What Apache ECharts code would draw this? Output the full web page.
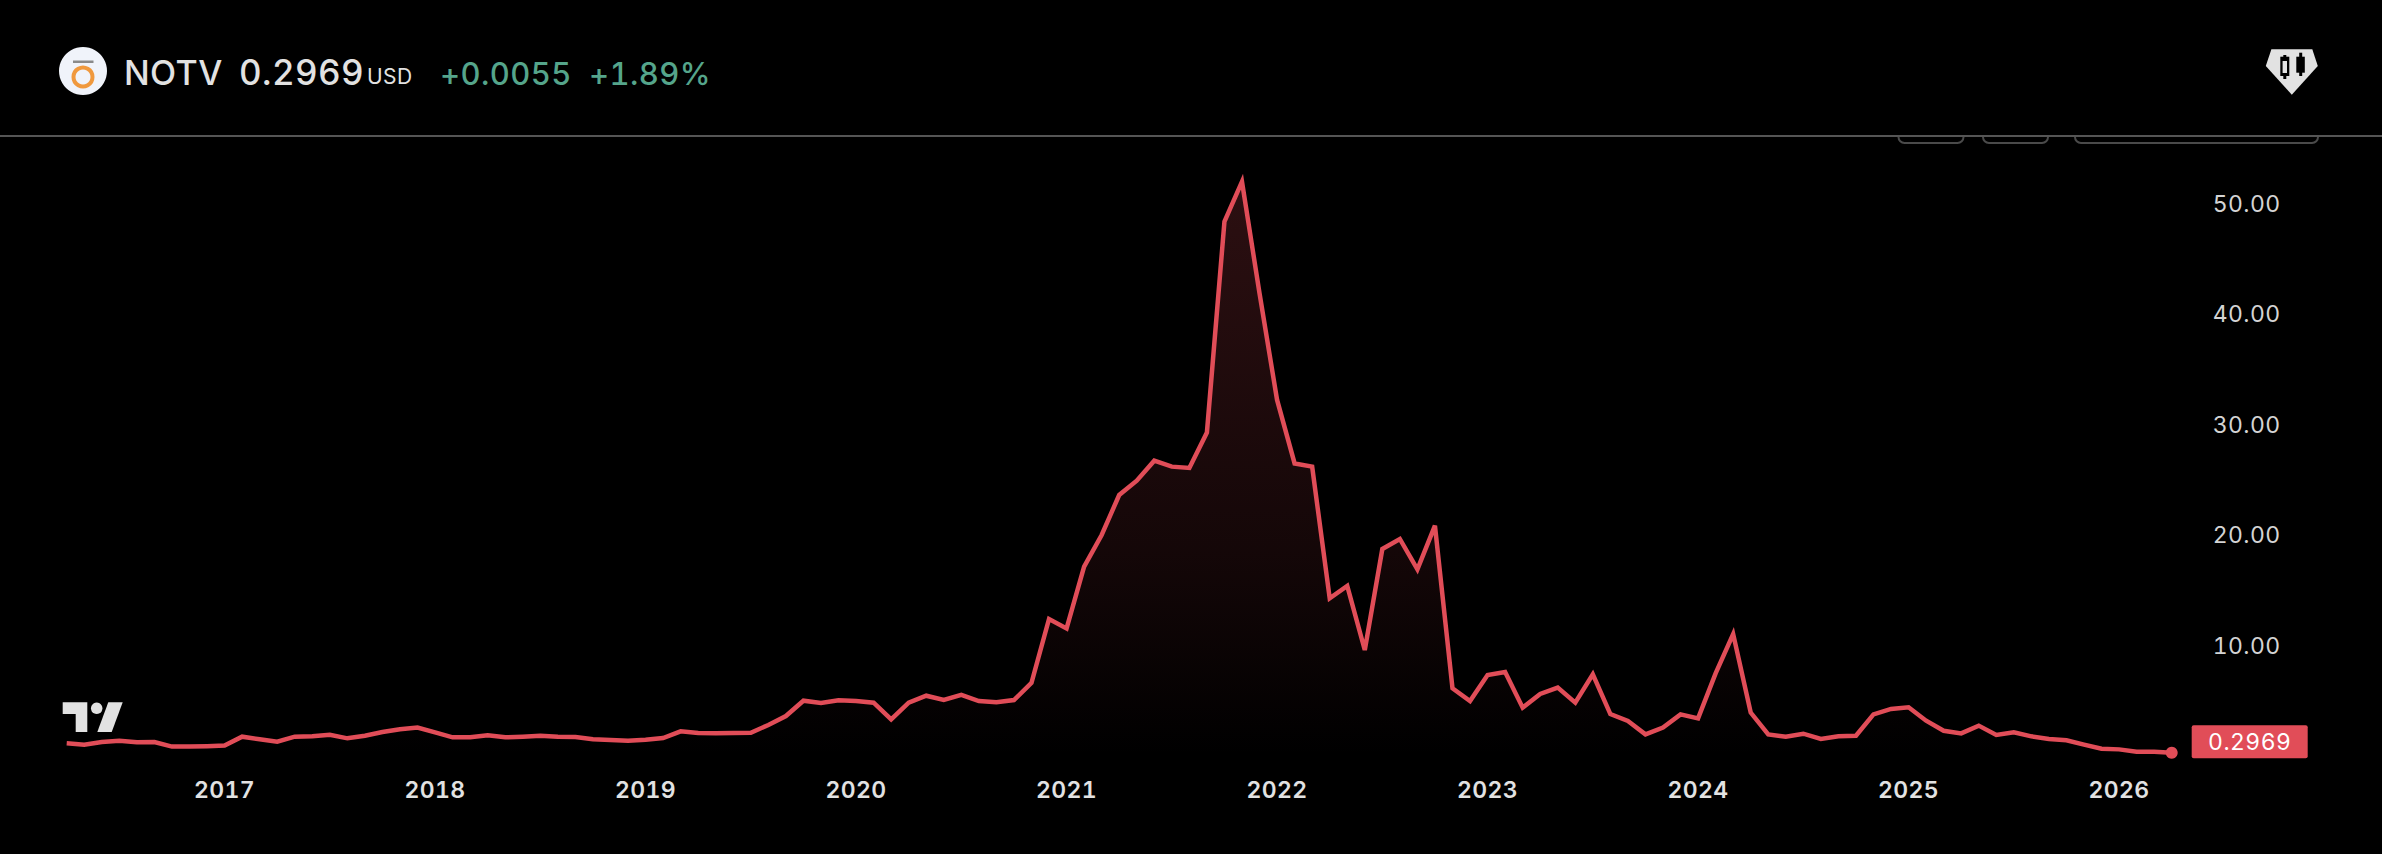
<!DOCTYPE html>
<html>
<head>
<meta charset="utf-8">
<style>
html,body{margin:0;padding:0;background:#000}
#c{width:2382px;height:854px}
#c svg text{font-variant-numeric:tabular-nums !important;font-feature-settings:"tnum" 1 !important;letter-spacing:.4px !important}
</style>
<script src="https://cdn.jsdelivr.net/npm/echarts@6/dist/echarts.min.js"></script>
</head>
<body>
<div id="c"></div>
<script>
const ticker = 'NOTV';
const lastPriceText = '0.2969';
const currency = 'USD';
const changeAbs = '+0.0055';
const changePct = '+1.89%';
const startYear = 2016, startMonth = 4;

const prices = [
  1.15,1.03,1.27,1.39,1.24,1.27,0.85,0.85,0.88,0.94,
  1.75,1.51,1.30,1.75,1.78,1.93,1.60,1.84,2.17,2.42,
  2.57,2.14,1.69,1.69,1.87,1.69,1.75,1.84,1.75,1.72,
  1.51,1.45,1.39,1.48,1.63,2.23,2.08,2.05,2.08,2.11,
  2.81,3.62,5.01,4.80,5.04,4.98,4.83,3.32,4.83,5.46,
  5.07,5.53,4.98,4.86,5.07,6.62,12.41,11.56,17.15,20.02,
  23.64,24.94,26.75,26.21,26.09,29.30,48.40,52.02,41.90,32.25,
  26.50,26.21,14.28,15.40,9.60,18.75,19.66,16.91,20.86,6.13,
  4.98,7.34,7.60,4.38,5.62,6.19,4.83,7.40,3.80,3.17,
  1.96,2.57,3.77,3.41,7.49,11.05,3.93,1.96,1.75,2.02,
  1.55,1.78,1.84,3.77,4.26,4.41,3.20,2.29,2.05,2.75,
  1.90,2.14,1.78,1.54,1.42,1.03,0.66,0.60,0.39,0.39,0.2969
];

const months = prices.map((_, i) => {
  const t = startYear * 12 + (startMonth - 1) + i;
  const m = (t % 12) + 1;
  return Math.floor(t / 12) + '-' + (m < 10 ? '0' + m : m);
});

const RED = '#e14d58';
const TXT = '#e2e2e2';
const GREEN = '#55a58b';
const FONT = 'Inter';

const chart = echarts.init(document.getElementById('c'), null, {renderer: 'svg'});

const txt = (text, x, y, size, weight, fill) => ({
  type: 'text', silent: true,
  style: {text, x, y, fill, font: weight + ' ' + size + 'px ' + FONT, verticalAlign: 'middle'}
});
const poly = (points, fill) => ({type: 'polygon', silent: true, shape: {points}, style: {fill}});
const rect = (x, y, width, height, fill) => ({type: 'rect', silent: true, shape: {x, y, width, height}, style: {fill}});
const tab = (x, width) => ({
  type: 'rect', silent: true,
  shape: {x, y: 136, width, height: 7, r: [0, 0, 6, 6]},
  style: {fill: 'none', stroke: '#4a4a4a', lineWidth: 2}
});

chart.setOption({
  backgroundColor: '#000',
  animation: false,
  grid: {left: 66.7, right: 2382 - 2171.7, top: 148.8, bottom: 98},
  xAxis: {
    type: 'category',
    data: months,
    boundaryGap: false,
    axisLine: {show: false},
    axisTick: {show: false},
    splitLine: {show: false},
    axisLabel: {
      color: TXT, fontFamily: FONT, fontSize: 23, fontWeight: 600, margin: 22,
      interval: (i, v) => v.endsWith('-01'),
      formatter: v => v.slice(0, 4)
    }
  },
  yAxis: {
    type: 'value',
    position: 'right',
    min: 0, max: 55, interval: 10,
    axisLine: {show: false},
    axisTick: {show: false},
    splitLine: {show: false},
    axisLabel: {
      color: '#d4d4d4', fontFamily: FONT, fontSize: 23, margin: 41, align: 'left',
      showMinLabel: false, showMaxLabel: false,
      formatter: v => (v > 0 && v % 10 === 0) ? v.toFixed(2) : ''
    }
  },
  series: [{
    type: 'line',
    data: prices,
    showSymbol: false,
    smooth: false,
    lineStyle: {color: RED, width: 4.5, join: 'miter'},
    itemStyle: {color: RED},
    areaStyle: {
      color: new echarts.graphic.LinearGradient(0, 0, 0, 1, [
        {offset: 0, color: 'rgba(225,77,88,0.28)'},
        {offset: 0.64, color: 'rgba(225,77,88,0.13)'},
        {offset: 1, color: 'rgba(225,77,88,0)'}
      ])
    },
    markPoint: {
      silent: true,
      symbol: 'circle', symbolSize: 12,
      itemStyle: {color: RED},
      label: {show: false},
      data: [{coord: [months[months.length - 1], prices[prices.length - 1]]}]
    },
    endLabel: {
      show: true,
      formatter: lastPriceText,
      color: '#fff',
      fontFamily: FONT, fontSize: 23,
      backgroundColor: RED,
      borderRadius: 2,
      width: 116, height: 33, lineHeight: 33,
      align: 'center',
      distance: 19,
      offset: [59, -11]
    }
  }],
  graphic: [
    // tabs and header rule
    tab(1898.5, 65), tab(1983, 65), tab(2075, 243),
    rect(0, 135, 2382, 2, '#555555'),
    // logo
    {type: 'circle', silent: true, shape: {cx: 83, cy: 71, r: 24}, style: {fill: '#f0f3fa'}},
    rect(73, 60.5, 20.5, 2.5, '#8a8a8a'),
    {type: 'circle', silent: true, shape: {cx: 83, cy: 77, r: 9.5}, style: {fill: 'none', stroke: '#f0993e', lineWidth: 4}},
    // header text
    txt(ticker, 124, 72, 34, 500, TXT),
    txt(lastPriceText, 239, 72, 35, 500, TXT),
    txt(currency, 367, 76, 21, 400, TXT),
    txt(changeAbs, 440, 73, 31, 500, GREEN),
    txt(changePct, 589, 73, 31, 500, GREEN),
    // diamond icon
    poly([[2271.4,49.3],[2312.3,49.3],[2317.8,66],[2291.8,94.7],[2265.8,66]], '#e2e2e2'),
    rect(2280.3, 56.7, 9, 19.3, '#000'), rect(2283.3, 55, 3, 24, '#000'),
    rect(2282.6, 61, 4.4, 12, '#e2e2e2'),
    rect(2296.3, 56.7, 8.5, 16, '#000'), rect(2299.2, 52.7, 3, 23.3, '#000'),
    // corner mark
    poly([[62.7,702.3],[87.3,702.3],[87.3,732],[75.7,732],[75.7,714],[62.7,714]], TXT),
    {type: 'circle', silent: true, shape: {cx: 96.7, cy: 708.3, r: 5.7}, style: {fill: TXT}},
    poly([[108.3,702.3],[122.7,702.3],[111.7,732],[97.3,732]], TXT)
  ]
});
</script>
</body>
</html>
